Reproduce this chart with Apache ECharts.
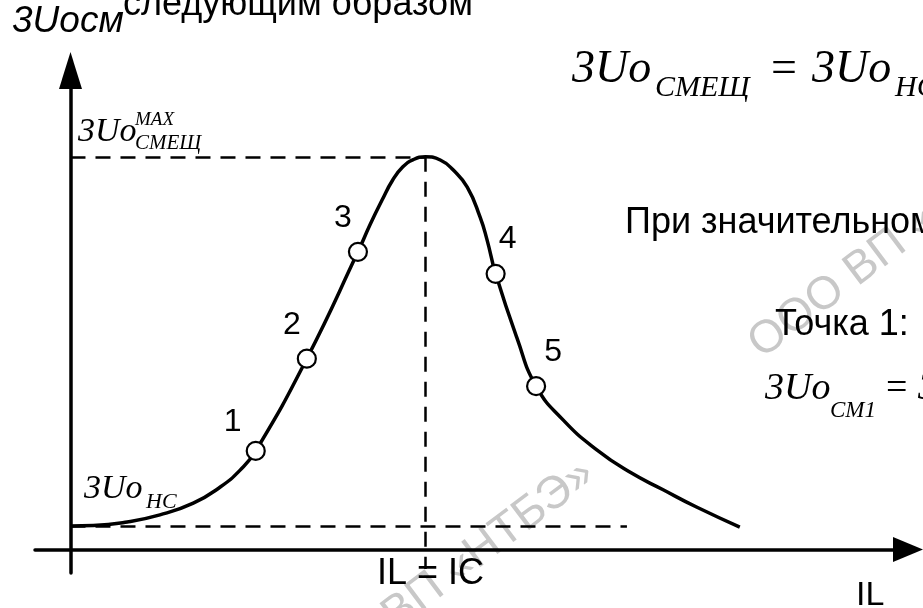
<!DOCTYPE html>
<html>
<head>
<meta charset="utf-8">
<script src="https://cdn.jsdelivr.net/npm/echarts@6/dist/echarts.min.js"></script>
<style>
  html, body { margin: 0; padding: 0; background: #ffffff; }
  #chart { width: 923px; height: 608px; }
</style>
</head>
<body>
<div id="chart"></div>
<script>
// Resonance curve: zero-sequence displacement voltage 3Uo vs. inductive current IL
const curveIL = [0, 3.2, 8.0, 12.6, 17.3, 21.1, 23.9, 26.1, 33.3, 40.5, 42.2, 43.9, 45.4, 46.8,
                 48.3, 50.0, 52.1, 53.9, 55.9, 57.7, 58.7, 59.9, 62.9, 65.6,
                 69.4, 74.2, 78.8, 83.5, 88.2, 94.3];
const curveU  = [6.0, 6.1, 7.0, 8.8, 11.8, 15.9, 20.2, 25.1, 48.6, 75.8, 82.7, 89.0, 94.1, 97.4,
                 99.3, 100, 99.2, 96.7, 92.3, 84.7, 78.8, 70.2, 53.9, 41.6,
                 33.0, 25.3, 19.7, 15.2, 10.8, 5.7];

// measuring points 1..5 on the curve
const pointIL = [26.1, 33.3, 40.5, 59.9, 65.6];
const pointU  = [25.1, 48.6, 75.8, 70.2, 41.6];
const pointNames = ['1', '2', '3', '4', '5'];

// reference levels
const resonanceIL = 50;   // IL = IC
const maxU = 100;         // 3Uo max
const ncU = 6.0;          // 3Uo at normal state
const ncGuideEnd = 78.4;  // end of the normal-state guide
const resonanceGuideBottom = -5;

// axis extents
const xRange = [-5, 118];
const yRange = [-6, 122];

// label placement for the point numbers (pixels from the marker centre)
const labelOffsets = [[-23, -29], [-15, -33], [-15, -34], [12, -35], [17, -34]];

const SANS = "'Liberation Sans', Arial, sans-serif";
const SERIF = "'Liberation Serif', 'Times New Roman', serif";

function txt(x, baseline, text, size, family, italic) {
  return {
    type: 'text',
    x: x,
    y: baseline - 0.28 * size,
    silent: true,
    z: 10,
    style: {
      text: text,
      font: (italic ? 'italic ' : '') + size + 'px ' + family,
      fill: '#000000',
      textAlign: 'left',
      textVerticalAlign: 'middle'
    }
  };
}

const chart = echarts.init(document.getElementById('chart'), null, { renderer: 'canvas' });

const deg = Math.PI / 180;
const watermark = 'ООО ВП «НТБЭ»';
const watermarkStyle = { font: '46px ' + SANS, fill: '#c8c8c8', textVerticalAlign: 'middle' };

const option = {
  backgroundColor: '#ffffff',
  animation: false,
  grid: { left: 35, right: 15, top: 70.5, bottom: 35, outerBoundsMode: 'none', containLabel: false },
  xAxis: {
    type: 'value',
    min: xRange[0], max: xRange[1],
    axisLine: {
      show: true, onZero: true,
      symbol: ['none', 'triangle'], symbolSize: [25, 30],
      lineStyle: { color: '#000000', width: 3.5 }
    },
    axisTick: { show: false },
    axisLabel: { show: false },
    splitLine: { show: false }
  },
  yAxis: {
    type: 'value',
    min: yRange[0], max: yRange[1],
    axisLine: {
      show: true, onZero: true,
      symbol: ['none', 'triangle'], symbolSize: [23, 37],
      lineStyle: { color: '#000000', width: 3.5 }
    },
    axisTick: { show: false },
    axisLabel: { show: false },
    splitLine: { show: false }
  },
  series: [
    {
      type: 'line',
      name: '3Uосм',
      data: curveIL.map((x, i) => [x, curveU[i]]),
      smooth: 0.5,
      showSymbol: false,
      symbol: 'none',
      lineStyle: { color: '#000000', width: 3.5 },
      z: 3,
      markLine: {
        silent: true,
        symbol: ['none', 'none'],
        label: { show: false },
        lineStyle: { color: '#000000', width: 2.5, type: [15, 10] },
        data: [
          [{ coord: [0, maxU] }, { coord: [resonanceIL, maxU] }],
          [{ coord: [resonanceIL, maxU] }, { coord: [resonanceIL, resonanceGuideBottom] }],
          [{ coord: [0, ncU] }, { coord: [ncGuideEnd, ncU] }]
        ]
      }
    },
    {
      type: 'scatter',
      name: 'points',
      data: pointIL.map((x, i) => ({
        value: [x, pointU[i]],
        name: pointNames[i],
        label: { offset: labelOffsets[i] }
      })),
      symbol: 'circle',
      symbolSize: 18,
      itemStyle: { color: '#ffffff', borderColor: '#000000', borderWidth: 2.2, opacity: 1 },
      z: 5,
      label: {
        show: true,
        position: 'inside',
        formatter: p => p.name,
        color: '#000000',
        opacity: 1,
        fontFamily: SANS,
        fontSize: 32
      }
    }
  ],
  graphic: [
    // watermark repeated along one diagonal
    {
      type: 'text', x: 589, y: 469, rotation: 37 * deg, silent: true, z: -1,
      style: Object.assign({ text: watermark, textAlign: 'right' }, watermarkStyle)
    },
    {
      type: 'text', x: 754, y: 349, rotation: 37 * deg, silent: true, z: -1,
      style: Object.assign({ text: watermark, textAlign: 'left' }, watermarkStyle)
    },
    // heading fragments
    txt(12, 32, '3Uосм', 37, SANS, true),
    txt(123, 15, 'следующим образом', 36, SANS, false),
    // formula at the top
    txt(572, 83, '3Uo', 46, SERIF, true),
    txt(655, 97, 'СМЕЩ', 30, SERIF, true),
    txt(771, 83, '=', 46, SERIF, false),
    txt(812, 83, '3Uo', 46, SERIF, true),
    txt(895, 97, 'НС', 30, SERIF, true),
    // side notes
    txt(625, 233, 'При значительном', 36, SANS, false),
    txt(775, 335, 'Точка 1:', 36, SANS, false),
    txt(765, 400, '3Uo', 38, SERIF, true),
    txt(830, 417, 'СМ1', 23, SERIF, true),
    txt(886, 400, '=', 38, SERIF, false),
    txt(918, 400, '3', 38, SERIF, true),
    // level labels on the vertical axis
    txt(78, 142, '3Uo', 34, SERIF, true),
    txt(135, 125, 'MAX', 19, SERIF, true),
    txt(135, 149, 'СМЕЩ', 21, SERIF, true),
    txt(84, 499, '3Uo', 34, SERIF, true),
    txt(146, 508, 'НС', 22, SERIF, true),
    // horizontal axis labels
    txt(377, 584, 'IL = IC', 36, SANS, false),
    txt(856, 605, 'IL', 34, SANS, false)
  ]
};

chart.setOption(option);
</script>
</body>
</html>
